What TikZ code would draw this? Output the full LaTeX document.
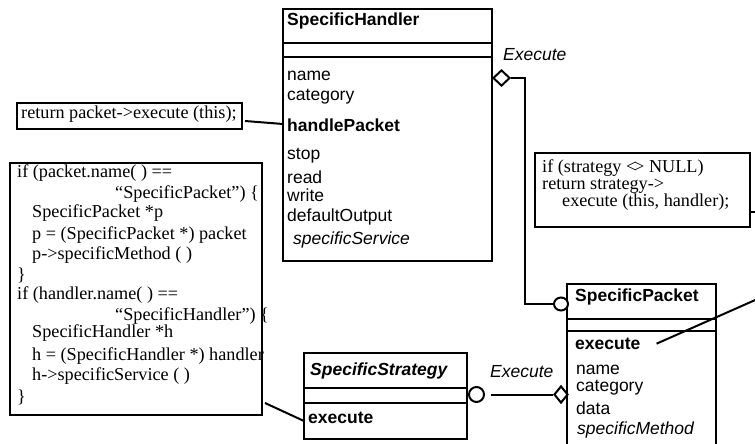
\documentclass[tikz,border=0pt]{standalone}
\usepackage{fontspec}
\setmainfont{Liberation Serif}
\setsansfont{Liberation Sans}
\usetikzlibrary{shapes.geometric,calc}

\tikzset{
  classbox/.style={draw, line width=2.2pt, inner sep=0pt, outer sep=0pt, anchor=north west},
  notebox/.style={draw, line width=2.2pt, inner sep=0pt, outer sep=0pt, anchor=north west},
  divider/.style={line width=2pt},
  link/.style={line width=2pt},
  member/.style={anchor=mid west, inner sep=0pt, font=\sffamily\fontsize{17.5}{20}\selectfont},
  boldmember/.style={member, font=\sffamily\bfseries\fontsize{17.5}{20}\selectfont},
  itmember/.style={member, font=\sffamily\itshape\fontsize{17.5}{20}\selectfont},
  code/.style={anchor=mid west, inner sep=0pt, font=\rmfamily\fontsize{18.2}{20}\selectfont},
  rolelabel/.style={anchor=mid west, inner sep=0pt, font=\sffamily\itshape\fontsize{17.5}{20}\selectfont},
  aggr/.style={diamond, draw, fill=white, line width=2pt, inner sep=0pt, aspect=1,
               minimum width=17pt, minimum height=16pt},
  ball/.style={ellipse, draw, fill=white, line width=2pt, inner sep=0pt,
               minimum width=14pt, minimum height=13pt},
}

\begin{document}
\begin{tikzpicture}[x=1pt, y=-1pt]
  \fill[white] (0,0) rectangle (755,444);
  \useasboundingbox (0,0) rectangle (755,444);

  % ---- class SpecificHandler ----
  \node[classbox, minimum width=209pt, minimum height=252pt] (sh) at (283,9) {};
  \draw[divider] (sh.west |- 0,43) -- (sh.east |- 0,43);
  \draw[divider] (sh.west |- 0,57) -- (sh.east |- 0,57);
  \node[boldmember] (shT) at (287,23) {SpecificHandler};
  \node[member] (sh1) at (287,78) {name};
  \node[member] (sh2) at (287,98) {category};
  \node[boldmember] (sh3) at (287,129) {handlePacket};
  \node[member] (sh4) at (287,157) {stop};
  \node[member] (sh5) at (287,181) {read};
  \node[member] (sh6) at (287,199) {write};
  \node[member] (sh7) at (287,219) {defaultOutput};
  \node[itmember] (sh8) at (293,242) {specificService};

  % ---- class SpecificPacket ----
  \node[classbox, minimum width=149pt, minimum height=200pt] (pk) at (567,284) {};
  \draw[divider] (pk.west |- 0,319) -- (pk.east |- 0,319);
  \draw[divider] (pk.west |- 0,331) -- (pk.east |- 0,331);
  \node[boldmember] (pkT) at (575,299) {SpecificPacket};
  \node[boldmember] (pexec) at (575,347) {execute};
  \node[member] (pk1) at (576,372) {name};
  \node[member] (pk2) at (576,389) {category};
  \node[member] (pk3) at (576,412) {data};
  \node[itmember] (pk4) at (577,432) {specificMethod};

  % ---- class SpecificStrategy ----
  \node[classbox, minimum width=163pt, minimum height=86pt] (ss) at (304,353) {};
  \draw[divider] (ss.west |- 0,388) -- (ss.east |- 0,388);
  \draw[divider] (ss.west |- 0,403) -- (ss.east |- 0,403);
  \node[member, font=\sffamily\bfseries\itshape\fontsize{17.5}{20}\selectfont] (ssT) at (310,373) {SpecificStrategy};
  \node[boldmember] (ssE) at (308,421) {execute};

  % ---- notes ----
  \node[notebox, minimum width=225pt, minimum height=26pt] (n1) at (17,103) {};
  \node[code] at (21,116) {return packet->execute (this);};

  \node[notebox, minimum width=252pt, minimum height=252pt] (n2) at (10,163) {};
  \node[code] at (17,175) {if (packet.name( ) ==};
  \node[code] at (115,196) {“SpecificPacket”) \{};
  \node[code] at (32,215) {SpecificPacket *p};
  \node[code] at (32,237) {p = (SpecificPacket *) packet};
  \node[code] at (32,257) {p->specificMethod ( )};
  \node[code] at (17,278) {\}};
  \node[code] at (17,297) {if (handler.name( ) ==};
  \node[code] at (115,318) {“SpecificHandler”) \{};
  \node[code] at (32,335) {SpecificHandler *h};
  \node[code] at (32,358) {h = (SpecificHandler *) handler};
  \node[code] at (32,378) {h->specificService ( )};
  \node[code] at (17,400) {\}};

  \node[notebox, minimum width=215pt, minimum height=74pt] (n3) at (535,153) {};
  \node[code] at (542,170) {if (strategy <\kern-0.12em> NULL)};
  \node[code] at (542,187) {return strategy->};
  \node[code] at (562,204) {execute (this, handler);};

  % ---- associations ----
  \node[aggr, anchor=west] (hd) at (sh.east |- 0,78) {};
  \node[ball, anchor=east] (pb) at ([xshift=2pt]pk.west |- 0,304) {};
  \draw[link] (hd.east) -- ++(14,0) |- (pb.west);
  \node[rolelabel] (e1) at (503,58) {Execute};

  \node[ball, anchor=west, minimum width=15pt, minimum height=15pt] (sb) at ([xshift=1pt]ss.east |- 0,394.5) {};
  \node[aggr, anchor=east, minimum width=14pt, minimum height=17pt] (pd) at ([xshift=2pt]pk.west |- 0,394.5) {};
  \draw[link] ([xshift=6pt]sb.east) -- (pd.west);
  \node[rolelabel] (e2) at (490,375) {Execute};

  % ---- note attachments ----
  \draw[link] ([shift={(3pt,-5pt)}]n1.east) -- (sh.west |- 0,124);
  \draw[link] ([shift={(3pt,12pt)}]n2.south east) -- (ss.west |- 0,421);
  \coordinate (n3out) at (762,212);
  \draw[link] ([yshift=-22pt]n3.east) -- (n3out);
  \coordinate (pkout) at (762,297);
  \draw[link] ([xshift=16pt]pexec.east) -- (pkout);
\end{tikzpicture}
\end{document}
